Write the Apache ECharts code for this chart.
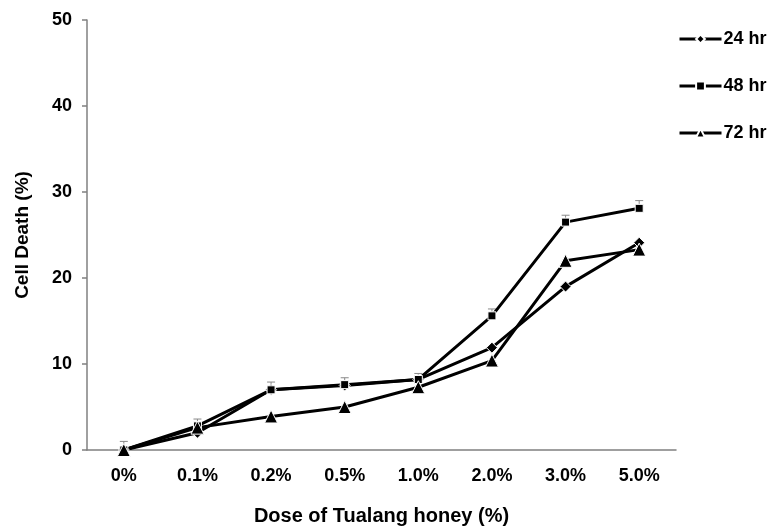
<!DOCTYPE html>
<html>
<head>
<meta charset="utf-8">
<script src="https://cdn.jsdelivr.net/npm/echarts@6/dist/echarts.min.js"></script>
<style>html,body{margin:0;padding:0;background:#fff;}#c{width:773px;height:531px;}</style>
</head>
<body>
<div id="c"></div>
<script>
var categories = ['0%', '0.1%', '0.2%', '0.5%', '1.0%', '2.0%', '3.0%', '5.0%'];
var hr24 = [0, 2.0, 7.0, 7.5, 8.2, 11.9, 19.0, 24.1];
var hr48 = [0, 2.8, 7.0, 7.6, 8.2, 15.6, 26.5, 28.1];
var hr72 = [0, 2.6, 3.9, 5.0, 7.3, 10.4, 22.0, 23.3];
var err48 = [1.0, 0.8, 0.9, 0.8, 0.7, 0.8, 0.8, 0.9];
var err72 = [0, 0, 0, 0, 0, 0, 0, 0.9];
var yTicks = [0, 10, 20, 30, 40, 50];

var font = 'Liberation Sans, Arial, sans-serif';

function errData(vals, errs) {
  var out = [];
  for (var i = 0; i < vals.length; i++) {
    if (errs[i] > 0) out.push([i, vals[i], errs[i]]);
  }
  return out;
}

function errRender(params, api) {
  var i = api.value(0), v = api.value(1), e = api.value(2);
  var p0 = api.coord([i, v]);
  var p1 = api.coord([i, v + e]);
  var w = 4;
  return {
    type: 'group',
    children: [
      {type: 'line', shape: {x1: p0[0], y1: p0[1], x2: p1[0], y2: p1[1]}, style: {stroke: '#888', lineWidth: 1}},
      {type: 'line', shape: {x1: p1[0] - w, y1: p1[1], x2: p1[0] + w, y2: p1[1]}, style: {stroke: '#888', lineWidth: 1}}
    ]
  };
}

var chart = echarts.init(document.getElementById('c'), null, {renderer: 'canvas'});
chart.setOption({
  animation: false,
  backgroundColor: '#fff',
  grid: {left: 87, right: 97, top: 20, bottom: 80, containLabel: false},
  legend: {
    orient: 'vertical',
    left: 678,
    top: 30,
    padding: 0,
    itemWidth: 42,
    itemHeight: 11,
    itemGap: 29,
    lineStyle: {width: 3},
    textStyle: {fontFamily: font, fontWeight: 'bold', fontSize: 18, color: '#000', padding: [0, 0, 0, -3]},
    data: ['24 hr', '48 hr', '72 hr']
  },
  xAxis: {
    type: 'category',
    data: categories,
    boundaryGap: true,
    name: 'Dose of Tualang honey (%)',
    nameLocation: 'middle',
    nameGap: 56,
    nameTextStyle: {fontFamily: font, fontWeight: 'bold', fontSize: 20, color: '#000'},
    axisLine: {lineStyle: {color: '#808080', width: 1.5}},
    axisTick: {length: 5, lineStyle: {color: '#808080', width: 1.5}},
    axisLabel: {fontFamily: font, fontWeight: 'bold', fontSize: 18, color: '#000', margin: 17},
    splitLine: {show: false}
  },
  yAxis: {
    type: 'value',
    min: yTicks[0],
    max: yTicks[yTicks.length - 1],
    interval: 10,
    name: 'Cell Death (%)',
    nameLocation: 'middle',
    nameRotate: 90,
    nameGap: 55,
    nameTextStyle: {fontFamily: font, fontWeight: 'bold', fontSize: 19, color: '#000'},
    axisLine: {show: true, lineStyle: {color: '#808080', width: 1.5}},
    axisTick: {show: true, length: 5, lineStyle: {color: '#808080', width: 1.5}},
    axisLabel: {fontFamily: font, fontWeight: 'bold', fontSize: 18, color: '#000', margin: 15},
    splitLine: {show: false}
  },
  series: [
    {
      type: 'custom', name: 'err48', renderItem: errRender, data: errData(hr48, err48),
      encode: {x: 0, y: 1}, z: 1, silent: true
    },
    {
      type: 'custom', name: 'err72', renderItem: errRender, data: errData(hr72, err72),
      encode: {x: 0, y: 1}, z: 1, silent: true
    },
    {
      name: '24 hr', type: 'line', data: hr24, symbol: 'diamond', symbolSize: 11,
      lineStyle: {color: '#000', width: 3}, itemStyle: {color: '#000', borderColor: '#fff', borderWidth: 1}, z: 3
    },
    {
      name: '48 hr', type: 'line', data: hr48, symbol: 'rect', symbolSize: 8,
      lineStyle: {color: '#000', width: 3}, itemStyle: {color: '#000', borderColor: '#fff', borderWidth: 1}, z: 3
    },
    {
      name: '72 hr', type: 'line', data: hr72, symbol: 'triangle', symbolSize: 13,
      lineStyle: {color: '#000', width: 3}, itemStyle: {color: '#000', borderColor: '#fff', borderWidth: 1}, z: 3
    }
  ]
});
</script>
</body>
</html>
